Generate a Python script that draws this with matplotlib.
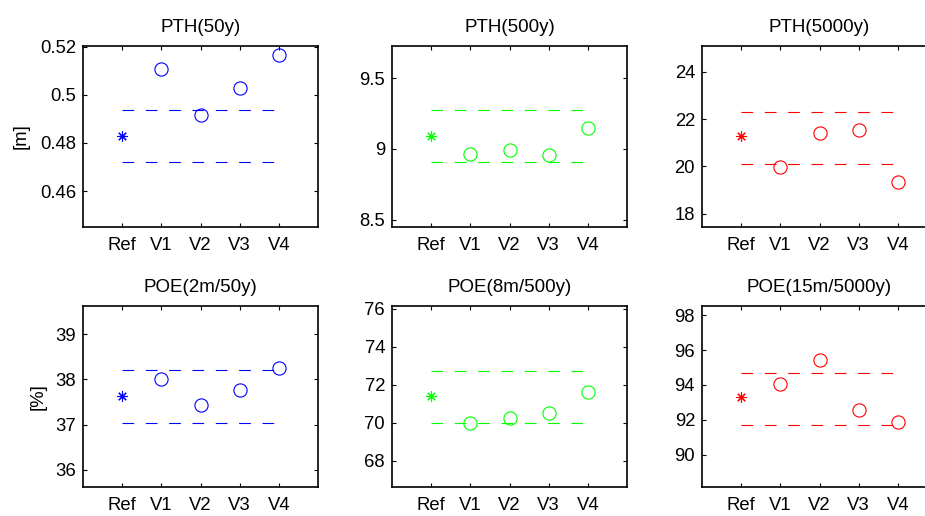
import matplotlib
matplotlib.use('Agg')
import matplotlib.pyplot as plt
import numpy as np

plt.rcParams['font.family'] = ['Liberation Sans', 'DejaVu Sans']
plt.rcParams['font.size'] = 13
plt.rcParams['lines.scale_dashes'] = False

labels = ['Ref', 'V1', 'V2', 'V3', 'V4']
titles = ['PTH(50y)', 'PTH(500y)', 'PTH(5000y)',
          'POE(2m/50y)', 'POE(8m/500y)', 'POE(15m/5000y)']
colors = ['b', 'lime', 'r', 'b', 'lime', 'r']

ref_vals = [0.4828, 9.092, 21.28, 37.626, 71.39, 93.33]
band_low = [0.4719, 8.906, 20.10, 37.04, 70.00, 91.73]
band_high = [0.4936, 9.275, 22.30, 38.20, 72.73, 94.67]
variants = [
    [0.5106, 0.4917, 0.5027, 0.5167],
    [8.967, 8.995, 8.955, 9.148],
    [19.97, 21.40, 21.52, 19.35],
    [38.015, 37.43, 37.76, 38.26],
    [69.96, 70.24, 70.49, 71.62],
    [94.04, 95.43, 92.55, 91.87],
]
ylims = [(0.4451, 0.5203), (8.447, 9.729), (17.43, 25.10),
         (35.62, 39.62), (66.62, 76.14), (88.15, 98.53)]
yticks = [[0.46, 0.48, 0.5, 0.52], [8.5, 9, 9.5], [18, 20, 22, 24],
          [36, 37, 38, 39], [68, 70, 72, 74, 76], [90, 92, 94, 96, 98]]
ylabels = ['[m]', '', '', '[%]', '', '']

fig = plt.figure(figsize=(9.25, 5.16), dpi=100)

lefts = [83, 392, 702]
tops = [46, 306]
W, H = 925, 516
aw, ah = 235, 181

for i in range(6):
    r, c = divmod(i, 3)
    ax = fig.add_axes([lefts[c] / W, (H - tops[r] - ah) / H, aw / W, ah / H])
    col = colors[i]
    x = np.arange(1, 6)
    ax.plot([1, 5], [band_low[i]] * 2, color=col, lw=0.8, dashes=(8.4, 8.4))
    ax.plot([1, 5], [band_high[i]] * 2, color=col, lw=0.8, dashes=(8.4, 8.4))
    ax.plot(1, ref_vals[i], marker=(8, 2, 0), ms=7.5, mew=0.8, color=col, ls='none')
    ax.plot(x[1:], variants[i], 'o', ms=9.5, mfc='none', mec=col, mew=0.8)
    ax.set_xlim(0, 6)
    ax.set_ylim(*ylims[i])
    ax.set_xticks(x)
    ax.set_xticklabels(labels)
    ax.set_yticks(yticks[i])
    ax.set_yticklabels(['%g' % v for v in yticks[i]])
    ax.tick_params(direction='in', length=3, width=0.8, top=True, right=True,
                   labelsize=13.3)
    ax.tick_params(axis='y', pad=5)
    ax.tick_params(axis='x', pad=7)
    for s in ax.spines.values():
        s.set_linewidth(1.2)
    ax.set_title(titles[i], fontsize=13.5, pad=10)
    if ylabels[i]:
        ax.set_ylabel(ylabels[i], fontsize=13.3)
        ax.yaxis.set_label_coords(-0.225 if r == 0 else -0.155, 0.5)

fig.savefig('out.png', dpi=100)
